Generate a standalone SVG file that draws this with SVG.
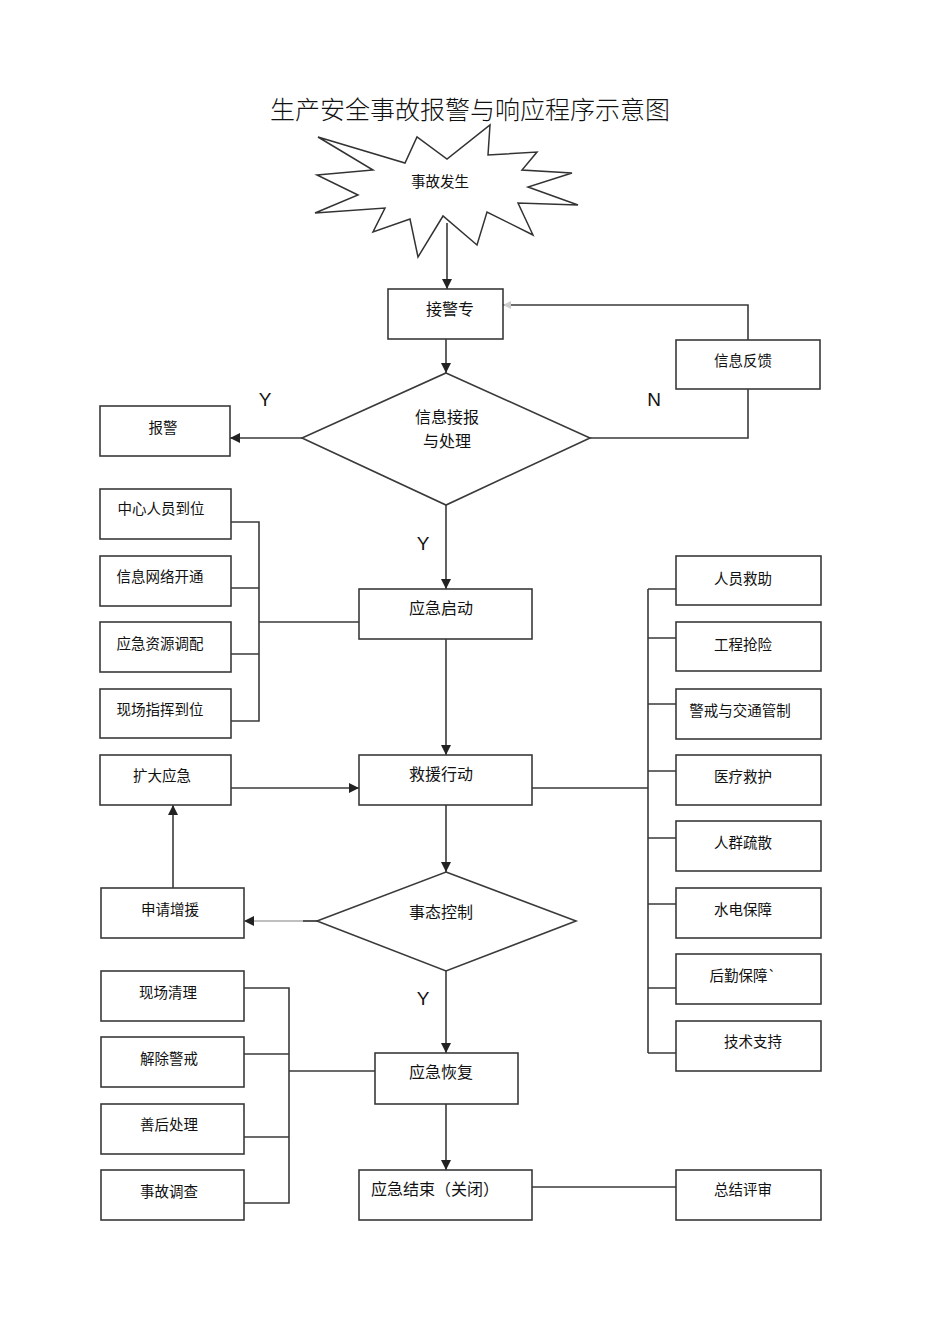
<svg xmlns="http://www.w3.org/2000/svg" width="950" height="1344" viewBox="0 0 950 1344">
<style>
.box{fill:#fff;stroke:#3a3a3a;stroke-width:1.6}
.ln{fill:none;stroke:#3a3a3a;stroke-width:1.6}
.t{font-family:"Noto Sans CJK SC","Liberation Sans",sans-serif;font-size:14.5px;fill:#111;text-anchor:middle;dominant-baseline:central}
.tb{font-family:"Noto Sans CJK SC","Liberation Sans",sans-serif;font-size:16px;fill:#111;text-anchor:middle;dominant-baseline:central}
.yn{font-family:"Liberation Sans",Arial,sans-serif;font-size:19px;fill:#111;text-anchor:middle;dominant-baseline:central}
</style>
<defs>
<marker id="ar" viewBox="0 0 10 10" refX="10" refY="5" markerWidth="10" markerHeight="10" markerUnits="userSpaceOnUse" orient="auto">
<path d="M0,0 L10,5 L0,10 Z" fill="#222"/>
</marker>
<marker id="arl" viewBox="0 0 10 10" refX="10" refY="5" markerWidth="8" markerHeight="8" markerUnits="userSpaceOnUse" orient="auto">
<path d="M0,0 L10,5 L0,10 Z" fill="#ccc"/>
</marker>
</defs>
<rect width="950" height="1344" fill="#fff"/>
<text x="470" y="108" font-family="Noto Sans CJK SC, sans-serif" font-weight="300" font-size="25" text-anchor="middle" dominant-baseline="central" fill="#111">生产安全事故报警与响应程序示意图</text>

<g id="connectors">
<path class="ln" d="M447,223 V289" marker-end="url(#ar)"/>
<path class="ln" d="M446,339 V373" marker-end="url(#ar)"/>
<path class="ln" d="M748,340 V305 H503" marker-end="url(#arl)"/>
<path class="ln" d="M748,389 V438 H590"/>
<path class="ln" d="M302,438 H230" marker-end="url(#ar)"/>
<path class="ln" d="M446,505 V589" marker-end="url(#ar)"/>
<path class="ln" d="M231,522 H259 V721 H231 M231,588 H259 M231,654 H259 M259,622 H359"/>
<path class="ln" d="M446,639 V755" marker-end="url(#ar)"/>
<path class="ln" d="M231,788 H359" marker-end="url(#ar)"/>
<path class="ln" d="M532,788 H648 M648,589 V1053 M648,589 H676 M648,638 H676 M648,704 H676 M648,771 H676 M648,838 H676 M648,904 H676 M648,988 H676 M648,1053 H676"/>
<path class="ln" d="M446,805 V872" marker-end="url(#ar)"/>
<path d="M317,921 H244" fill="none" stroke="#aaa" stroke-width="1.4" marker-end="url(#ar)"/>
<path class="ln" d="M317,921 H303"/>
<path class="ln" d="M173,888 V805" marker-end="url(#ar)"/>
<path class="ln" d="M446,971 V1053" marker-end="url(#ar)"/>
<path class="ln" d="M244,988 H289 V1203 H244 M244,1054 H289 M244,1137 H289 M289,1071 H375"/>
<path class="ln" d="M446,1104 V1170" marker-end="url(#ar)"/>
<path class="ln" d="M532,1187 H676"/>
<text class="yn" x="265" y="399">Y</text>
<text class="yn" x="654" y="399">N</text>
<text class="yn" x="423" y="543">Y</text>
<text class="yn" x="423" y="998">Y</text>
</g>

<g id="n-star">
<polygon fill="#fff" stroke="#333" stroke-width="1.5" points="318,137 405,163 417,137 447,159 490,125 488,155 537,152 522,170 572,173 528,187 578,205 518,203 533,235 487,212 477,245 443,216 418,257 410,219 373,232 385,208 315,213 358,195 317,175 373,170"/>
<text class="t" x="440" y="180">事故发生</text>
</g>
<g id="n-jjz"><rect class="box" x="388" y="289" width="115" height="50"/><text class="tb" x="450" y="308">接警专</text></g>
<g id="n-xxfk"><rect class="box" x="676" y="340" width="144" height="49"/><text class="t" x="743" y="359">信息反馈</text></g>
<g id="n-xxjb"><polygon class="box" points="446,373 590,438 446,505 302,438"/><text class="tb" x="447" y="416">信息接报</text><text class="tb" x="447" y="440">与处理</text></g>
<g id="n-bj"><rect class="box" x="100" y="406" width="130" height="50"/><text class="t" x="163" y="426">报警</text></g>
<g id="n-zx"><rect class="box" x="100" y="489" width="131" height="50"/><text class="t" x="161" y="507">中心人员到位</text></g>
<g id="n-xxwl"><rect class="box" x="100" y="556" width="131" height="50"/><text class="t" x="160" y="575">信息网络开通</text></g>
<g id="n-yjzy"><rect class="box" x="100" y="622" width="131" height="50"/><text class="t" x="160" y="642">应急资源调配</text></g>
<g id="n-xczh"><rect class="box" x="100" y="689" width="131" height="49"/><text class="t" x="160" y="708">现场指挥到位</text></g>
<g id="n-kdyj"><rect class="box" x="100" y="755" width="131" height="50"/><text class="t" x="162" y="774">扩大应急</text></g>
<g id="n-sqzy"><rect class="box" x="101" y="888" width="143" height="50"/><text class="t" x="170" y="908">申请增援</text></g>
<g id="n-xcql"><rect class="box" x="101" y="971" width="143" height="50"/><text class="t" x="168" y="991">现场清理</text></g>
<g id="n-jcjj"><rect class="box" x="101" y="1037" width="143" height="50"/><text class="t" x="169" y="1057">解除警戒</text></g>
<g id="n-shcl"><rect class="box" x="101" y="1104" width="143" height="50"/><text class="t" x="169" y="1123">善后处理</text></g>
<g id="n-sgdc"><rect class="box" x="101" y="1170" width="143" height="50"/><text class="t" x="169" y="1190">事故调查</text></g>
<g id="n-yjqd"><rect class="box" x="359" y="589" width="173" height="50"/><text class="tb" x="441" y="607">应急启动</text></g>
<g id="n-jyxd"><rect class="box" x="359" y="755" width="173" height="50"/><text class="tb" x="441" y="773">救援行动</text></g>
<g id="n-stkz"><polygon class="box" points="446,872 576,921 446,971 317,921"/><text class="tb" x="441" y="911">事态控制</text></g>
<g id="n-yjhf"><rect class="box" x="375" y="1053" width="143" height="51"/><text class="tb" x="441" y="1071">应急恢复</text></g>
<g id="n-yjjs"><rect class="box" x="359" y="1170" width="173" height="50"/><text class="tb" x="371" y="1188" style="text-anchor:start">应急结束（关闭）</text></g>
<g id="n-ryjz"><rect class="box" x="676" y="556" width="145" height="49"/><text class="t" x="743" y="577">人员救助</text></g>
<g id="n-gcqx"><rect class="box" x="676" y="622" width="145" height="49"/><text class="t" x="743" y="643">工程抢险</text></g>
<g id="n-jjjt"><rect class="box" x="676" y="689" width="145" height="50"/><text class="t" x="740" y="709">警戒与交通管制</text></g>
<g id="n-ylju"><rect class="box" x="676" y="755" width="145" height="50"/><text class="t" x="743" y="775">医疗救护</text></g>
<g id="n-rqss"><rect class="box" x="676" y="821" width="145" height="50"/><text class="t" x="743" y="841">人群疏散</text></g>
<g id="n-sdbz"><rect class="box" x="676" y="888" width="145" height="50"/><text class="t" x="743" y="908">水电保障</text></g>
<g id="n-hqbz"><rect class="box" x="676" y="954" width="145" height="50"/><text class="t" x="743" y="974">后勤保障`</text></g>
<g id="n-jszc"><rect class="box" x="676" y="1021" width="145" height="50"/><text class="t" x="753" y="1040">技术支持</text></g>
<g id="n-zjps"><rect class="box" x="676" y="1170" width="145" height="50"/><text class="t" x="743" y="1188">总结评审</text></g>
</svg>
